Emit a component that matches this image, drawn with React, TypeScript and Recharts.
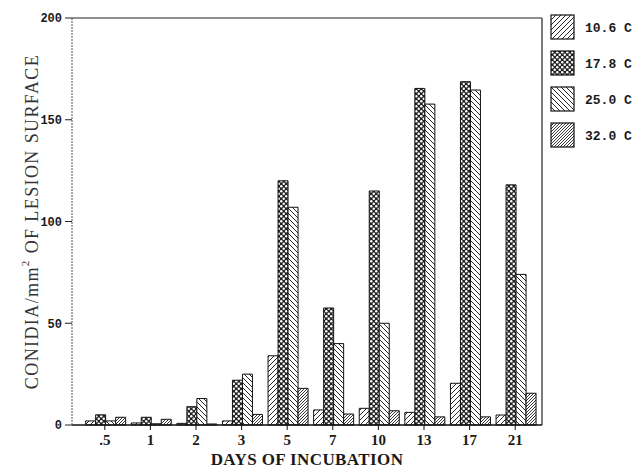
import { BarChart, Bar, XAxis, YAxis, ReferenceLine } from 'recharts';

// days of incubation
const days = ['.5', '1', '2', '3', '5', '7', '10', '13', '17', '21'];

// conidia per mm2 of lesion surface, one list per temperature
const t106 = [2, 1, 0.8, 2, 34, 7.4, 8.2, 6.2, 20.5, 4.9];
const t178 = [5, 3.8, 9, 22, 120, 57.5, 115, 165.4, 168.7, 118];
const t250 = [2, 0.6, 13, 25, 107, 40, 50, 157.7, 164.6, 74];
const t320 = [3.8, 2.8, 0.5, 5.2, 18, 5.4, 7, 4, 4, 15.6];

const seriesLabels = ['10.6 C', '17.8 C', '25.0 C', '32.0 C'];
const yTicks = [0, 50, 100, 150, 200];

const data = days.map((d, i) => ({
  day: d,
  t106: t106[i],
  t178: t178[i],
  t250: t250[i],
  t320: t320[i],
}));

const series = [
  { key: 't106', label: seriesLabels[0], pat: 'p106' },
  { key: 't178', label: seriesLabels[1], pat: 'p178' },
  { key: 't250', label: seriesLabels[2], pat: 'p250' },
  { key: 't320', label: seriesLabels[3], pat: 'p320' },
];

// hatch fills, same look as the printed figure
function patternDefs(prefix: string) {
  return (
    <defs>
      <pattern id={prefix + 'p106'} patternUnits="userSpaceOnUse" width="5" height="5">
        <rect width="5" height="5" fill="#fff" />
        <path d="M-1,1 l2,-2 M0,5 l5,-5 M4,6 l2,-2" stroke="#111" strokeWidth="0.9" />
      </pattern>
      <pattern id={prefix + 'p250'} patternUnits="userSpaceOnUse" width="5" height="5">
        <rect width="5" height="5" fill="#fff" />
        <path d="M-1,4 l2,2 M0,0 l5,5 M4,-1 l2,2" stroke="#111" strokeWidth="0.9" />
      </pattern>
      <pattern id={prefix + 'p320'} patternUnits="userSpaceOnUse" width="3" height="3">
        <rect width="3" height="3" fill="#fff" />
        <path d="M-1,1 l2,-2 M0,3 l3,-3 M2,4 l2,-2" stroke="#222" strokeWidth="0.9" />
      </pattern>
      <pattern id={prefix + 'p178'} patternUnits="userSpaceOnUse" width="5" height="5">
        <rect width="5" height="5" fill="#222" />
        <circle cx="1.25" cy="1.25" r="1.25" fill="#fff" />
        <circle cx="3.75" cy="3.75" r="1.25" fill="#fff" />
      </pattern>
    </defs>
  );
}

export default function App() {
  return (
    <div style={{ position: 'absolute', left: 0, top: 0, width: 644, height: 471, background: '#fff' }}>
      <BarChart
        width={644}
        height={471}
        data={data}
        margin={{ top: 18, right: 101, bottom: 0, left: 0 }}
        barGap={0}
        barCategoryGap="8%"
      >
        {patternDefs('')}
        <XAxis
          dataKey="day"
          height={46}
          padding={{ left: 10, right: 4 }}
          axisLine={{ stroke: '#111', strokeWidth: 1.5 }}
          tickLine={{ stroke: '#111' }}
          tickSize={5}
          tickMargin={4}
          interval={0}
          tick={{ fill: '#1a1a1a', fontSize: 15, fontWeight: 'bold', fontFamily: 'Liberation Serif' }}
          label={{
            content: (p: any) => {
              const vb = p.viewBox;
              return (
                <text
                  x={vb.x + vb.width / 2}
                  y={vb.y + 40}
                  textAnchor="middle"
                  fontFamily="Liberation Serif"
                  fontWeight="bold"
                  fontSize={17}
                  letterSpacing={0.4}
                  fill="#1a1a1a"
                >
                  DAYS OF INCUBATION
                </text>
              );
            },
          }}
        />
        <YAxis
          width={72}
          domain={[0, 200]}
          ticks={yTicks}
          axisLine={{ stroke: '#555', strokeDasharray: '2 1' }}
          tickLine={{ stroke: '#222' }}
          tickSize={7}
          tickMargin={3}
          tick={{ fill: '#1a1a1a', fontSize: 12, fontWeight: 'bold', fontFamily: 'Liberation Mono' }}
          label={{
            content: (p: any) => {
              const vb = p.viewBox;
              const cy = vb.y + vb.height / 2;
              return (
                <text
                  x={32}
                  y={cy}
                  transform={`rotate(-90, 32, ${cy})`}
                  textAnchor="middle"
                  dominantBaseline="central"
                  fontFamily="Liberation Serif"
                  fontSize={18}
                  letterSpacing={1.4}
                  fill="#333"
                >
                  CONIDIA/mm
                  <tspan fontSize={11} dy={-7}>2</tspan>
                  <tspan dy={7}> OF LESION SURFACE</tspan>
                </text>
              );
            },
          }}
        />
        <YAxis
          yAxisId="right"
          orientation="right"
          width={1}
          domain={[0, 200]}
          tick={false}
          tickLine={false}
          axisLine={{ stroke: '#222', strokeWidth: 1.2 }}
        />
        <ReferenceLine y={200} stroke="#222" strokeWidth={1.2} />
        {series.map((s) => (
          <Bar
            key={s.key}
            dataKey={s.key}
            name={s.label}
            fill={`url(#${s.pat})`}
            stroke="#111"
            strokeWidth={1}
            isAnimationActive={false}
          />
        ))}
      </BarChart>
      <svg width={92} height={160} style={{ position: 'absolute', left: 550, top: 12 }}>
        {patternDefs('lg-')}
        {series.map((s, i) => (
          <g key={s.key} transform={`translate(1, ${3 + i * 36})`}>
            <rect width={23} height={24} fill={`url(#lg-${s.pat})`} stroke="#111" strokeWidth={1.2} />
            <text
              x={34}
              y={13}
              dominantBaseline="central"
              fontFamily="Liberation Mono"
              fontWeight="bold"
              fontSize={13}
              fill="#1a1a1a"
            >
              {s.label}
            </text>
          </g>
        ))}
      </svg>
    </div>
  );
}
